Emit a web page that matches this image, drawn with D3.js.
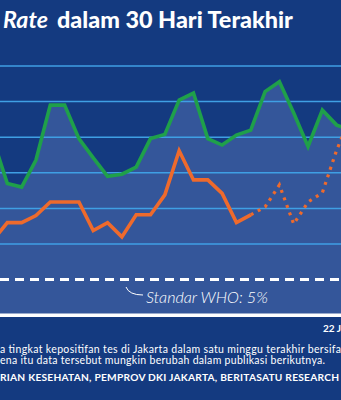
<!DOCTYPE html>
<html><head><meta charset="utf-8">
<script src="https://cdn.jsdelivr.net/npm/d3@7/dist/d3.min.js"></script>
<style>html,body{margin:0;padding:0;background:#143a80;overflow:hidden}svg{display:block}</style>
</head><body>
<svg id="c" width="341" height="400"></svg>
<script>
// Dates (visible window of the 30-day chart)
const dates = ["27 Jun","28 Jun","29 Jun","30 Jun","1 Jul","2 Jul","3 Jul","4 Jul","5 Jul","6 Jul","7 Jul","8 Jul","9 Jul","10 Jul","11 Jul","12 Jul","13 Jul","14 Jul","15 Jul","16 Jul","17 Jul","18 Jul","19 Jul","20 Jul","21 Jul","22 Jul"];
// Positivity rate (%) - national (green)
const nasional = [24.7,18.5,18.0,21.8,29.5,29.5,24.8,22.1,19.5,19.8,20.8,24.8,25.4,30.2,31.2,24.8,23.9,25.3,26.0,31.4,32.8,28.4,23.7,28.8,26.7,26.0];
// Positivity rate (%) - Jakarta (orange); last week is provisional (dotted)
const jakarta = [10.5,13.0,13.0,14.0,15.9,15.9,15.9,11.9,13.0,11.0,14.1,14.1,16.9,23.1,19.0,19.0,17.1,13.0,14.1,15.2,18.3,12.8,15.9,17.2,23.2,28.0];
const provisionalFrom = 19; // index where the dotted (provisional) part starts
const gridValues = [10,15,20,25,30,35];
const whoStandard = 5;
const titleItalic = "Rate";
const titleRest = "dalam 30 Hari Terakhir";
const whoLabel = "Standar WHO: 5%";
const dateLabel = "22 J";
const note1 = "a tingkat kepositifan tes di Jakarta dalam satu minggu terakhir bersifa";
const note2 = "ena itu data tersebut mungkin berubah dalam publikasi berikutnya.";
const source = "RIAN KESEHATAN, PEMPROV DKI JAKARTA, BERITASATU RESEARCH";

const svg = d3.select("#c");
const W = 341, H = 400;
const NAVY = "#143a80", FILL = "#34569a", GRID = "#3f9fe4", GREEN = "#1fa04a", ORANGE = "#ee6a2c";

svg.append("rect").attr("width", W).attr("height", H).attr("fill", NAVY);

const x = d3.scalePoint().domain(dates).range([-7, 351]);
const y = d3.scaleLinear().domain([0, 35]).range([315.2, 66]);

const idx = d3.range(dates.length);
const area = d3.area().x(i => x(dates[i])).y0(y(0)).y1(i => y(nasional[i]));
svg.append("path").datum(idx).attr("d", area).attr("fill", FILL);

svg.append("g").selectAll("line").data(gridValues).join("line")
  .attr("x1", 0).attr("x2", W).attr("y1", d => y(d)).attr("y2", d => y(d))
  .attr("stroke", GRID).attr("stroke-width", 1.5);

svg.append("line").attr("x1", 0).attr("x2", W).attr("y1", y(whoStandard)).attr("y2", y(whoStandard))
  .attr("stroke", "#ffffff").attr("stroke-width", 3).attr("stroke-dasharray", "9,6");

svg.append("line").attr("x1", 0).attr("x2", W).attr("y1", y(0)).attr("y2", y(0))
  .attr("stroke", "#ffffff").attr("stroke-width", 3.4);

const lineN = d3.line().x(i => x(dates[i])).y(i => y(nasional[i]));
svg.append("path").datum(idx).attr("d", lineN).attr("fill", "none")
  .attr("stroke", GREEN).attr("stroke-width", 3.6);

const lineJ = d3.line().x(i => x(dates[i])).y(i => y(jakarta[i]));
svg.append("path").datum(idx.filter(i => i <= provisionalFrom - 1)).attr("d", lineJ).attr("fill", "none")
  .attr("stroke", ORANGE).attr("stroke-width", 3.6);
svg.append("path").datum(idx.filter(i => i >= provisionalFrom - 1)).attr("d", lineJ).attr("fill", "none")
  .attr("stroke", ORANGE).attr("stroke-width", 3.2).attr("stroke-dasharray", "3,5");

svg.append("path").attr("d", "M126,287 Q129,295 143,295").attr("fill", "none")
  .attr("stroke", "#ffffff").attr("stroke-width", 1);

function fit(t, w) {
  const fs = parseFloat(t.attr("font-size"));
  const len = t.node().getComputedTextLength();
  t.attr("font-size", (fs * w / len).toFixed(2));
}
function stretch(t, w) {
  t.attr("textLength", w).attr("lengthAdjust", "spacing");
}

const who = svg.append("text").attr("x", 146).attr("y", 303)
  .attr("font-family", "Lato, 'Open Sans', sans-serif").attr("font-style", "italic").attr("font-weight", 300)
  .attr("font-size", 15).attr("fill", "#ffffff").text(whoLabel);
fit(who, 122);

const t1 = svg.append("text").attr("x", 3).attr("y", 28)
  .attr("font-family", "Lato, 'Open Sans', sans-serif").attr("font-style", "italic").attr("font-weight", 700)
  .attr("font-size", 22).attr("fill", "#ffffff").text(titleItalic);
fit(t1, 45);
const t2 = svg.append("text").attr("x", 57).attr("y", 28)
  .attr("font-family", "Lato, 'Open Sans', sans-serif").attr("font-weight", 900)
  .attr("font-size", 22).attr("fill", "#ffffff").text(titleRest);
fit(t2, 236);

svg.append("text").attr("x", 341).attr("y", 332).attr("text-anchor", "end")
  .attr("font-family", "Lato, sans-serif").attr("font-weight", 700).attr("font-size", 10)
  .attr("fill", "#ffffff").text(dateLabel);
const n1 = svg.append("text").attr("x", 0).attr("y", 352.5)
  .attr("font-family", "Lato, sans-serif").attr("font-weight", 400).attr("font-size", 10.5)
  .attr("fill", "#ffffff").text(note1);
stretch(n1, 341);
const n2 = svg.append("text").attr("x", 0).attr("y", 364)
  .attr("font-family", "Lato, sans-serif").attr("font-weight", 400).attr("font-size", 10.5)
  .attr("fill", "#ffffff").text(note2);
stretch(n2, 325);
const s = svg.append("text").attr("x", 0).attr("y", 380.5)
  .attr("font-family", "Lato, sans-serif").attr("font-weight", 700).attr("font-size", 10.2)
  .attr("fill", "#ffffff").text(source);
stretch(s, 339);
</script>
</body></html>
